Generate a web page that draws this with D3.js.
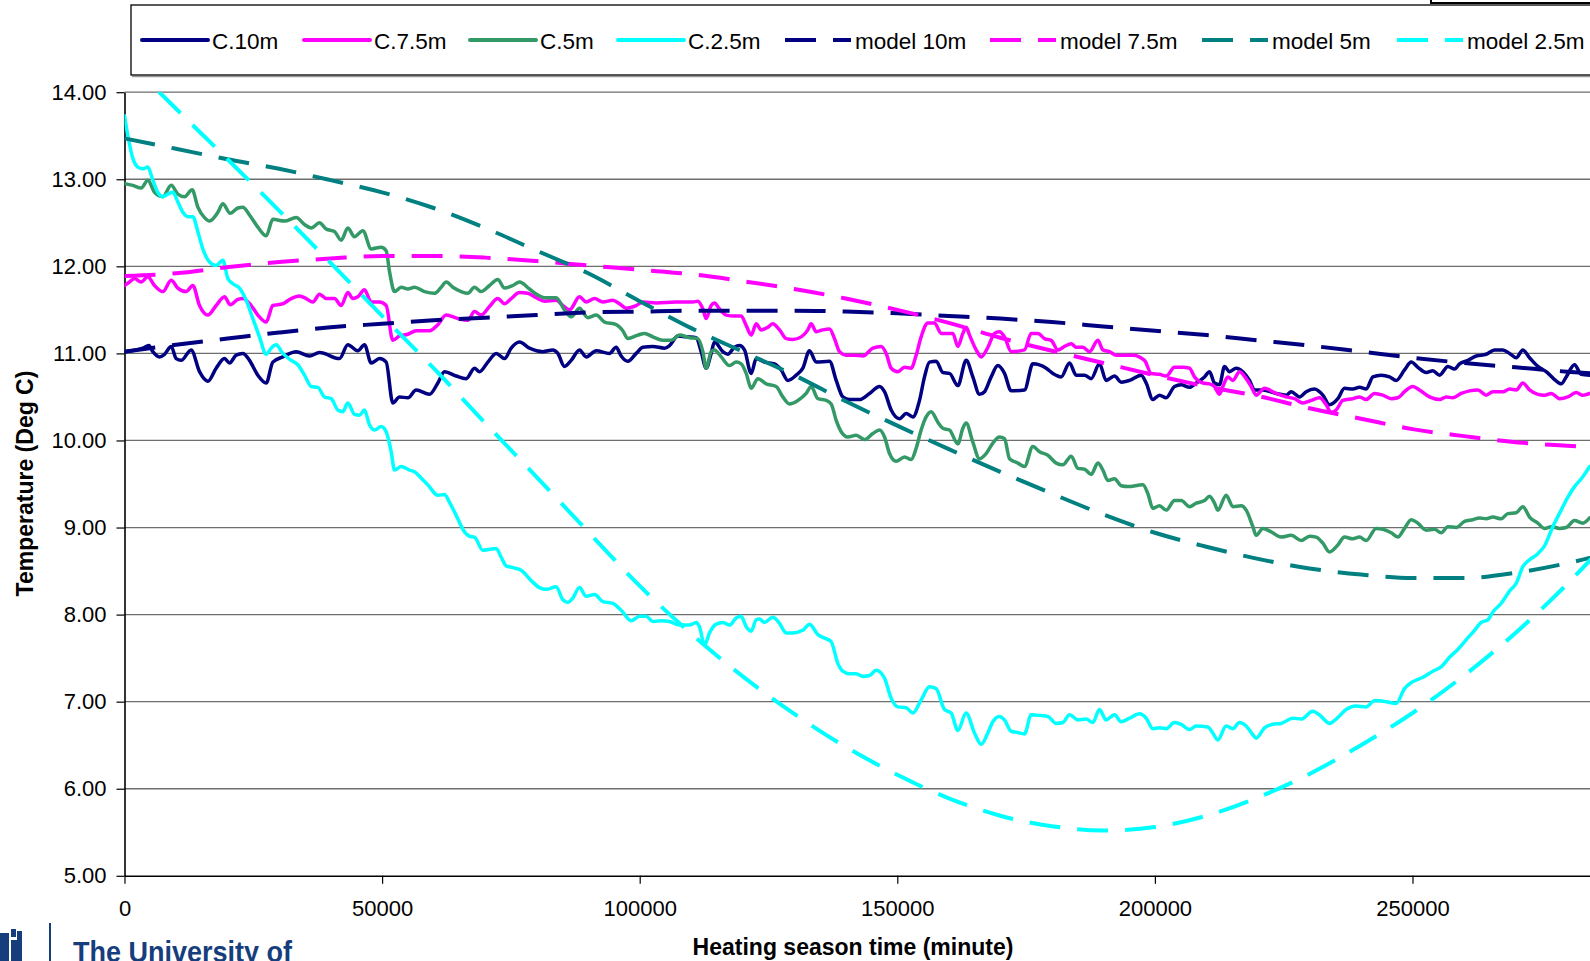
<!DOCTYPE html>
<html>
<head>
<meta charset="utf-8">
<script src="https://cdnjs.cloudflare.com/ajax/libs/d3/7.8.5/d3.min.js"></script>
<style>
  body { margin: 0; background: #fff; overflow: hidden; }
  svg { display: block; }
</style>
</head>
<body>
<div id="chart"></div>
<script>

// ---- data ----
var seriesNames = ["C.10m", "C.7.5m", "C.5m", "C.2.5m", "model 10m", "model 7.5m", "model 5m", "model 2.5m"];

var xTicks = [0, 50000, 100000, 150000, 200000, 250000];
var yTicks = [5, 6, 7, 8, 9, 10, 11, 12, 13, 14];

// measured series : [minute, deg C]
var c10m = [[0,11.02],[3560,11.06],[4720,11.09],[5500,11.02],[6790,10.96],[7760,10.99],[9060,11.08],[10030,10.94],[11000,10.92],[12940,11.04],[14560,10.79],[16180,10.68],[17790,10.83],[19410,10.94],[20380,10.89],[21670,10.98],[22970,11.00],[24260,10.92],[25880,10.75],[27500,10.66],[28790,10.90],[30730,10.96],[33320,11.02],[35910,10.97],[37850,11.01],[41730,10.94],[43350,11.10],[45290,11.03],[46580,11.10],[47880,10.89],[49500,10.94],[50790,10.90],[52080,10.43],[53380,10.50],[55000,10.49],[56610,10.58],[59200,10.53],[60820,10.66],[62110,10.79],[64380,10.74],[66320,10.71],[67940,10.83],[68910,10.79],[70520,10.90],[72140,11.00],[73760,10.94],[75050,11.06],[76670,11.13],[78610,11.06],[81200,11.02],[83140,11.04],[84110,11.00],[85400,10.85],[86700,10.92],[88320,11.04],[89610,10.96],[91550,11.03],[94140,11.00],[95430,11.07],[96400,10.97],[97700,10.91],
  [99320,11.00],[100610,11.07],[102550,11.08],[104820,11.06],[105790,11.09],[107400,11.20],[109020,11.19],[110960,11.18],[111930,11.02],[112900,10.83],[113870,11.00],[114520,11.13],[116140,11.02],[117110,10.99],[118400,11.07],[119370,11.09],[120340,11.04],[121640,10.77],[122610,10.94],[124230,10.90],[126170,10.88],[127460,10.81],[128760,10.69],[130370,10.75],[131670,10.83],[132960,11.03],[134250,10.90],[136840,10.91],[138140,10.69],[139430,10.50],[140720,10.47],[142670,10.47],[144610,10.54],[146550,10.62],[147520,10.56],[148810,10.35],[150430,10.25],[151720,10.31],[153020,10.27],[154310,10.46],[155280,10.73],[156250,10.90],[157550,10.91],[158840,10.78],[160130,10.77],[161750,10.63],[163370,10.92],[164660,10.73],[165960,10.53],[166930,10.56],[168220,10.73],[169520,10.86],[170810,10.77],[172100,10.57],[174690,10.58],[176310,10.88],[178900,10.83],[180190,10.77],[181810,10.73],[183430,10.89],[184720,10.75],[186340,10.75],[187630,10.71],[189250,10.88],[190540,10.69],[192160,10.74],[193450,10.67],[195070,10.69],
  [197340,10.75],[198310,10.66],[199600,10.47],[200900,10.52],[202190,10.49],[203810,10.62],[205100,10.64],[206720,10.61],[208020,10.66],[209630,10.73],[210600,10.79],[211570,10.66],[212540,10.64],[213510,10.85],[214480,10.79],[215780,10.83],[217070,10.79],[218370,10.69],[219340,10.58],[220950,10.58],[223540,10.54],[225480,10.52],[226450,10.56],[228070,10.50],[229370,10.56],[230980,10.59],[232600,10.52],[233890,10.41],[235510,10.48],[236800,10.60],[238420,10.59],[239720,10.61],[241010,10.59],[242310,10.73],[243930,10.75],[245540,10.73],[246840,10.69],[248450,10.81],[249750,10.90],[251040,10.84],[252660,10.78],[253950,10.80],[255250,10.75],[256870,10.85],[258160,10.82],[259130,10.88],[260750,10.92],[262360,10.97],[264300,10.99],[265920,11.04],[267540,11.04],[268830,11.00],[270130,10.95],[271420,11.04],[272720,10.95],[274330,10.85],[275950,10.79],[277570,10.70],[278860,10.65],[279830,10.73],[281450,10.87],[282750,10.76],[284370,10.75]];

var c75m = [[0,11.78],[970,11.82],[1940,11.86],[3240,11.82],[4530,11.88],[5820,11.78],[7440,11.71],[9060,11.84],[10350,11.75],[11970,11.71],[13260,11.78],[14560,11.55],[16180,11.44],[17790,11.55],[19410,11.65],[20510,11.56],[22000,11.62],[22970,11.63],[24590,11.55],[25880,11.44],[27500,11.36],[28790,11.55],[30730,11.57],[32350,11.63],[33970,11.66],[35260,11.63],[36560,11.59],[37850,11.68],[39140,11.63],[40760,11.63],[42060,11.55],[43350,11.70],[44320,11.63],[45290,11.65],[46580,11.73],[47880,11.59],[49500,11.59],[50790,11.55],[52080,11.15],[53380,11.20],[55000,11.22],[56610,11.26],[59200,11.26],[60820,11.33],[62440,11.44],[64700,11.40],[66640,11.38],[67940,11.48],[69230,11.44],[70850,11.54],[72460,11.63],[73760,11.57],[75050,11.63],[76670,11.70],[78290,11.69],[79900,11.64],[81520,11.60],[83790,11.61],[85080,11.55],[86370,11.50],[88320,11.65],[89610,11.59],[91230,11.63],[92840,11.59],[94790,11.61],[96080,11.57],[97370,11.52],
  [99320,11.55],[100610,11.59],[103200,11.58],[107080,11.59],[110320,11.59],[111290,11.60],[112260,11.51],[112900,11.40],[113870,11.55],[114520,11.58],[115490,11.51],[116790,11.44],[118400,11.43],[119700,11.43],[120670,11.32],[121640,11.21],[122610,11.34],[123580,11.27],[124870,11.30],[125840,11.34],[127140,11.27],[128430,11.17],[129730,11.16],[131340,11.19],[132640,11.27],[133280,11.34],[134250,11.25],[135550,11.27],[136840,11.28],[137810,11.17],[138780,11.02],[140080,10.98],[141700,10.98],[143310,10.97],[145250,11.06],[146870,11.08],[147840,11.00],[148810,10.83],[150110,10.79],[151400,10.84],[152690,10.83],[153660,10.98],[154630,11.19],[155930,11.35],[157220,11.35],[158520,11.23],[160780,11.23],[161750,11.08],[162720,11.23],[163370,11.30],[164020,11.21],[165310,11.04],[166280,10.96],[167580,11.07],[168870,11.23],[169840,11.25],[170810,11.19],[172100,11.02],[174690,11.04],[175980,11.23],[177280,11.23],[178570,11.17],[179870,11.15],[181160,11.04],[182460,11.08],[183750,11.11],[184720,11.07],[186010,11.07],[187310,11.02],[188930,11.15],[189900,11.04],[191190,11.02],[192480,10.98],[194100,10.98],
  [195720,10.98],[197990,10.92],[199280,10.77],[200900,10.76],[202190,10.74],[203810,10.84],[205430,10.84],[206720,10.83],[207690,10.73],[209310,10.66],[210600,10.65],[211570,10.62],[212540,10.53],[213190,10.62],[214160,10.73],[215130,10.69],[216430,10.79],[217720,10.71],[218690,10.62],[219660,10.52],[221280,10.60],[223540,10.54],[225480,10.50],[227100,10.48],[228720,10.43],[230340,10.46],[231950,10.49],[233250,10.41],[234220,10.32],[235190,10.35],[236480,10.46],[238420,10.48],[239720,10.50],[241010,10.47],[242630,10.54],[244250,10.52],[245860,10.48],[247160,10.49],[248450,10.56],[250070,10.62],[251360,10.58],[253300,10.50],[255250,10.47],[256540,10.50],[257830,10.49],[259450,10.54],[261070,10.57],[262690,10.58],[264300,10.52],[265600,10.56],[267540,10.56],[268830,10.59],[270130,10.58],[271420,10.66],[272720,10.58],[274330,10.53],[275630,10.52],[276920,10.54],[278540,10.48],[280160,10.50],[281780,10.55],[283070,10.52],[284370,10.54]];

var c5m = [[0,12.95],[1620,12.93],[3240,12.90],[4530,12.99],[5820,12.85],[7440,12.80],[9060,12.93],[10350,12.83],[11650,12.80],[13130,12.88],[14230,12.68],[15530,12.56],[16500,12.52],[18120,12.62],[19090,12.72],[20510,12.61],[22000,12.67],[22970,12.68],[24260,12.59],[25880,12.45],[27500,12.35],[28790,12.54],[31060,12.52],[33320,12.56],[34940,12.48],[36230,12.44],[37850,12.50],[39140,12.43],[40760,12.40],[42060,12.30],[43350,12.44],[44640,12.34],[46260,12.41],[47880,12.20],[49820,12.22],[50790,12.18],[51440,11.94],[52410,11.71],[53700,11.76],[55000,11.74],[56290,11.76],[58230,11.71],[60170,11.69],[61470,11.76],[62440,11.82],[63730,11.76],[65350,11.71],[66640,11.69],[67940,11.76],[69230,11.71],[70850,11.78],[72460,11.85],[73760,11.75],[75380,11.78],[76670,11.82],[78610,11.74],[80230,11.67],[81520,11.64],[83790,11.64],[85400,11.50],[86700,11.42],[88320,11.52],[89930,11.41],[91550,11.44],[93170,11.36],[95430,11.33],[96720,11.26],[97700,11.17],
  [99640,11.21],[100930,11.23],[102550,11.19],[104490,11.15],[106110,11.15],[107730,11.21],[109670,11.18],[111290,11.17],[112260,11.02],[112900,10.83],[113870,11.02],[114520,11.04],[115820,10.96],[117430,10.86],[118730,10.90],[119700,10.88],[120670,10.77],[121640,10.60],[122930,10.71],[124550,10.65],[126490,10.62],[127780,10.50],[129080,10.42],[130700,10.46],[132310,10.54],[133280,10.62],[134580,10.48],[136200,10.46],[137170,10.42],[138140,10.23],[139110,10.10],[140400,10.04],[142020,10.06],[143640,10.01],[145250,10.08],[146550,10.12],[147520,10.04],[148490,9.85],[149780,9.76],[151400,9.81],[152690,9.78],[153660,9.91],[154630,10.12],[155600,10.27],[156570,10.33],[157870,10.21],[158840,10.14],[160130,10.12],[161750,9.96],[162720,10.14],[163370,10.20],[164660,9.98],[165960,9.79],[167250,9.85],[168550,9.97],[169840,10.04],[170810,10.02],[171780,9.79],[173400,9.74],[174690,9.70],[176310,9.93],[177600,9.87],[179220,9.83],[180840,9.74],[182130,9.72],[183750,9.82],[185040,9.68],[186340,9.67],[187630,9.61],[188930,9.74],[189900,9.66],[190870,9.54],[192160,9.56],[193450,9.48],[194750,9.47],
  [197660,9.49],[198630,9.39],[199600,9.22],[200900,9.25],[202190,9.20],[203810,9.31],[205100,9.31],[206720,9.24],[208020,9.28],[209630,9.31],[210600,9.36],[211570,9.28],[212220,9.20],[213840,9.37],[215130,9.24],[216750,9.25],[217720,9.20],[219010,9.01],[219660,8.91],[220950,8.99],[222570,8.95],[224510,8.89],[226450,8.91],[228400,8.85],[230010,8.90],[231310,8.89],[232600,8.82],[233890,8.72],[235510,8.80],[236800,8.89],[238420,8.87],[239720,8.89],[241010,8.85],[242950,8.99],[244250,8.98],[245860,8.94],[247160,8.89],[248450,8.99],[249750,9.09],[251040,9.05],[252660,8.97],[254280,8.98],[255570,8.94],[256870,9.01],[258480,9.00],[260100,9.07],[261720,9.09],[263010,9.11],[264300,9.10],[265600,9.12],[267220,9.10],[268510,9.16],[270130,9.17],[271420,9.24],[272720,9.12],[274330,9.05],[275630,8.99],[276920,9.01],[278540,8.99],[279830,9.00],[281450,9.08],[283070,9.05],[284370,9.11]];

var c25m = [[0,13.73],[650,13.50],[1620,13.24],[2590,13.14],[3560,13.12],[4530,13.14],[5500,12.99],[6470,12.85],[7440,12.80],[8410,12.83],[9380,12.85],[10350,12.74],[11320,12.62],[12290,12.57],[13260,12.57],[14230,12.40],[15200,12.20],[16500,12.05],[17790,12.01],[19090,12.07],[20060,11.86],[21030,11.80],[22320,11.75],[23620,11.61],[24910,11.40],[26200,11.19],[27500,10.99],[28470,11.06],[29440,11.10],[30730,11.00],[32350,10.92],[33640,10.87],[34940,10.75],[36230,10.62],[37530,10.61],[38820,10.50],[40110,10.48],[41410,10.35],[42380,10.33],[43350,10.43],[44640,10.30],[45610,10.29],[46580,10.35],[47550,10.18],[48530,10.12],[49820,10.16],[50790,10.10],[51760,9.87],[52410,9.66],[53700,9.70],[55320,9.66],[56290,9.64],[57580,9.57],[58880,9.49],
  [60820,9.37],[62110,9.38],[63080,9.29],[64380,9.14],[65990,8.95],[66960,8.90],[67930,8.89],[69550,8.74],[70840,8.75],[72140,8.76],[73110,8.66],[74080,8.56],[75370,8.54],[76990,8.51],[78930,8.39],[80550,8.31],[81840,8.29],[83780,8.32],[85080,8.17],[86050,8.14],[87020,8.19],[88310,8.31],[89610,8.21],[91230,8.23],[92840,8.15],[94780,8.13],[96400,8.05],[98340,7.93],[99960,7.98],[101250,7.98],[102550,7.92],[104160,7.93],[105780,7.92],[107720,7.88],[109660,7.88],[110960,7.91],[111600,7.86],[112580,7.65],[113550,7.79],[114840,7.89],[116140,7.91],[117430,7.88],[118720,7.96],[119700,7.98],[120670,7.86],[121640,7.81],[122610,7.94],[123250,7.95],[124220,7.91],[125840,7.97],[127130,7.90],[128430,7.79],[129720,7.79],[131660,7.82],[132960,7.89],[134580,7.77],[135870,7.73],[137160,7.69],[138450,7.44],[139430,7.35],[140720,7.32],[142010,7.32],[143310,7.29],[144600,7.30],
  [145900,7.36],[147510,7.27],[148810,7.04],[150100,6.94],[151720,6.93],[153010,6.87],[154630,7.02],[156250,7.17],[157540,7.15],[159160,6.91],[160450,6.87],[161750,6.67],[163360,6.87],[164980,6.64],[166280,6.51],[167570,6.64],[168540,6.77],[169830,6.83],[170800,6.79],[172100,6.66],[173070,6.65],[174690,6.63],[175980,6.85],[177920,6.84],[179220,6.83],[180830,6.75],[182130,6.76],[183420,6.85],[185040,6.79],[186660,6.80],[187950,6.76],[189240,6.91],[190540,6.79],[192160,6.85],[193450,6.77],[195070,6.81],[197010,6.86],[198300,6.81],[199600,6.69],[200890,6.70],[202190,6.69],[203800,6.76],[205100,6.74],[206710,6.68],[208010,6.72],[210270,6.71],[211240,6.64],[212210,6.56],[213830,6.72],[215120,6.69],[216420,6.76],[217710,6.72],[219010,6.62],[219650,6.58],[221270,6.70],[222890,6.74],[224510,6.75],[226770,6.81],[228390,6.80],[230650,6.89],[232270,6.83],[233890,6.75],[235180,6.80],[237120,6.91],[239060,6.95],[241000,6.94],[242620,7.01],[243590,7.01],
  [244890,7.00],[246830,6.98],[248450,7.15],[250070,7.23],[252010,7.28],[253950,7.35],[255570,7.40],[257190,7.51],[258800,7.60],[260420,7.71],[262040,7.82],[263330,7.91],[264630,7.94],[265600,8.03],[267220,8.13],[268830,8.27],[270130,8.36],[271420,8.55],[272720,8.63],[274330,8.70],[275630,8.79],[277240,9.01],[278860,9.20],[280160,9.35],[281450,9.47],[282750,9.56],[284370,9.70]];

// model curves share one time base
var modelMinutes = [0,10000,20000,30000,40000,50000,60000,70000,80000,90000,100000,110000,120000,130000,140000,150000,160000,170000,180000,190000,200000,210000,220000,230000,240000,250000,260000,270000,280000,290000];
var model10m  = [11.02,11.10,11.17,11.24,11.30,11.34,11.38,11.41,11.44,11.47,11.48,11.49,11.49,11.49,11.48,11.46,11.43,11.40,11.36,11.31,11.26,11.21,11.15,11.09,11.02,10.95,10.89,10.84,10.79,10.75];
var model75m  = [11.89,11.92,11.99,12.05,12.09,12.12,12.12,12.10,12.06,12.01,11.96,11.91,11.83,11.74,11.63,11.50,11.35,11.18,11.03,10.89,10.75,10.62,10.51,10.37,10.25,10.13,10.05,9.98,9.94,9.91];
var model5m   = [13.47,13.35,13.23,13.12,12.99,12.85,12.67,12.44,12.18,11.92,11.60,11.29,11.02,10.75,10.45,10.17,9.90,9.64,9.39,9.15,8.94,8.78,8.64,8.53,8.46,8.42,8.42,8.48,8.59,8.74];
var model25m  = [14.40,13.81,13.23,12.64,12.04,11.43,10.83,10.20,9.58,8.95,8.33,7.78,7.29,6.86,6.48,6.16,5.89,5.69,5.57,5.52,5.56,5.69,5.90,6.17,6.50,6.87,7.30,7.79,8.35,8.98];

// ---- styling ----
var colors = ["#000080", "#ff00ff", "#339966", "#00ffff", "#000080", "#ff00ff", "#008080", "#00ffff"];
var dashed = [false, false, false, false, true, true, true, true];
var FONT = "'Liberation Sans', Arial, Helvetica, sans-serif";
var DASH = "31,17";

var width = 1590, height = 961;

var x = d3.scaleLinear().domain([0, 300000]).range([124.5, 124.5 + 6 * 257.6]);
var y = d3.scaleLinear().domain([5, 14]).range([875.8, 92.2]);

var allSeries = [c10m, c75m, c5m, c25m].concat(
  [model10m, model75m, model5m, model25m].map(vals => modelMinutes.map((t, i) => [t, vals[i]]))
);

var svg = d3.select("#chart").append("svg")
      .attr("width", width)
      .attr("height", height);

svg.append("rect").attr("width", width).attr("height", height).attr("fill", "#fff");

svg.append("defs")
    .append("clipPath")
      .attr("id", "plotClip")
    .append("rect")
      .attr("x", x(0))
      .attr("y", y(14))
      .attr("width", x(300000) - x(0))
      .attr("height", y(5) - y(14));

// horizontal gridlines
svg.append("g").selectAll("line")
    .data(yTicks.filter(d => d > 5))
  .enter().append("line")
    .attr("x1", x(0))
    .attr("x2", x(300000))
    .attr("y1", d => y(d))
    .attr("y2", d => y(d))
    .attr("stroke", "#6e6e6e")
    .attr("stroke-width", 1.3);

// axes
var yAxis = d3.axisLeft(y)
      .tickValues(yTicks)
      .tickFormat(d3.format(".2f"))
      .tickSize(8)
      .tickSizeOuter(0)
      .tickPadding(10);

var xAxis = d3.axisBottom(x)
      .tickValues(xTicks)
      .tickFormat(d3.format("d"))
      .tickSize(8)
      .tickSizeOuter(0)
      .tickPadding(17);

var gy = svg.append("g")
    .attr("transform", `translate(${x(0)},0)`)
    .call(yAxis);

var gx = svg.append("g")
    .attr("transform", `translate(0,${y(5)})`)
    .call(xAxis);

[gx, gy].forEach(g => {
  g.attr("font-family", FONT).attr("font-size", 22);
  g.select(".domain").attr("stroke", "#000").attr("stroke-width", 1.6);
  g.selectAll(".tick line").attr("stroke", "#000").attr("stroke-width", 1.2);
  g.selectAll(".tick text").attr("fill", "#000");
});

// series
var line = d3.line()
      .x(d => x(d[0]))
      .y(d => y(d[1]))
      .curve(d3.curveMonotoneX);

svg.append("g")
    .attr("clip-path", "url(#plotClip)")
  .selectAll("path")
    .data(allSeries)
  .enter().append("path")
    .attr("fill", "none")
    .attr("stroke", (d, i) => colors[i])
    .attr("stroke-width", (d, i) => dashed[i] ? 4 : 3.5)
    .attr("stroke-dasharray", (d, i) => dashed[i] ? DASH : null)
    .attr("stroke-linejoin", "round")
    .attr("stroke-linecap", (d, i) => dashed[i] ? "butt" : "round")
    .attr("d", line);

// axis titles
svg.append("text")
    .attr("x", 853)
    .attr("y", 955)
    .attr("text-anchor", "middle")
    .attr("font-family", FONT)
    .attr("font-weight", "bold")
    .attr("font-size", 23)
    .text("Heating season time (minute)");

svg.append("text")
    .attr("transform", "translate(33,483.5) rotate(-90)")
    .attr("text-anchor", "middle")
    .attr("font-family", FONT)
    .attr("font-weight", "bold")
    .attr("font-size", 23)
    .text("Temperature (Deg C)");

// legend (box runs past the right edge of the picture)
var legendX = [142, 304, 470, 618, 785, 990, 1202, 1397];
var legend = svg.append("g");

legend.append("line")
    .attr("x1", 132).attr("x2", 1600)
    .attr("y1", 76.5).attr("y2", 76.5)
    .attr("stroke", "#999").attr("stroke-width", 1.5);

legend.append("rect")
    .attr("x", 131).attr("y", 5)
    .attr("width", 1520).attr("height", 70)
    .attr("fill", "#fff")
    .attr("stroke", "#000")
    .attr("stroke-width", 1.3);

var items = legend.selectAll(".legend")
    .data(seriesNames)
  .enter().append("g")
    .attr("class", "legend")
    .attr("transform", (d, i) => `translate(${legendX[i]},0)`);

items.append("line")
    .attr("x1", 0).attr("x2", 66)
    .attr("y1", 40).attr("y2", 40)
    .attr("stroke", (d, i) => colors[i])
    .attr("stroke-width", 4)
    .attr("stroke-linecap", (d, i) => dashed[i] ? "butt" : "round")
    .attr("stroke-dasharray", (d, i) => dashed[i] ? DASH : null);

items.append("text")
    .attr("x", 70)
    .attr("y", 48.5)
    .attr("font-family", FONT)
    .attr("font-size", 22.5)
    .attr("fill", "#000")
    .text(d => d);

// box peeking in at the top right corner
svg.append("rect")
    .attr("x", 1431).attr("y", -12)
    .attr("width", 200).attr("height", 15)
    .attr("fill", "#fff")
    .attr("stroke", "#000")
    .attr("stroke-width", 2);

// university logo, cut off by the bottom edge as in the source
var logo = svg.append("g").attr("fill", "#163e7d");
logo.append("rect").attr("x", 0).attr("y", 933).attr("width", 9).attr("height", 30);
logo.append("rect").attr("x", 11).attr("y", 929).attr("width", 5).attr("height", 8);
logo.append("rect").attr("x", 17).attr("y", 931).attr("width", 5).attr("height", 30);
logo.append("rect").attr("x", 11).attr("y", 940).attr("width", 11).attr("height", 22);
logo.append("line")
    .attr("x1", 50).attr("x2", 50)
    .attr("y1", 923).attr("y2", 961)
    .attr("stroke", "#163e7d").attr("stroke-width", 2);
logo.append("text")
    .attr("x", 73)
    .attr("y", 961.5)
    .attr("font-family", FONT)
    .attr("font-weight", "bold")
    .attr("font-size", 29)
    .attr("textLength", 219)
    .attr("lengthAdjust", "spacingAndGlyphs")
    .text("The University of");

</script>
</body>
</html>
